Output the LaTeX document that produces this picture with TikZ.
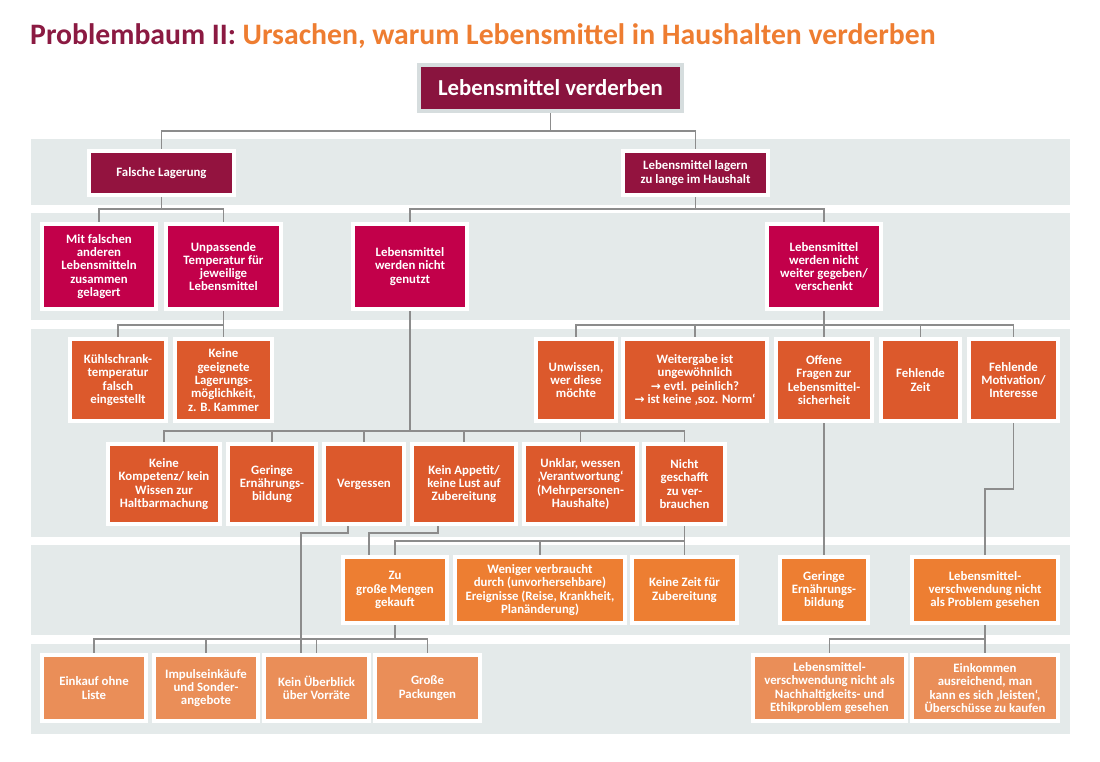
\documentclass[tikz,border=0pt]{standalone}
\usepackage{fontspec}
\setmainfont{Carlito}
\newfontfamily\symf{DejaVu Sans}
\definecolor{tmar}{HTML}{8B1A42}
\definecolor{tora}{HTML}{EE7D31}
\definecolor{crootc}{HTML}{89143E}
\definecolor{crootf}{HTML}{D6DDDE}
\definecolor{cra}{HTML}{93133F}
\definecolor{crb}{HTML}{C2004A}
\definecolor{crc}{HTML}{DC592C}
\definecolor{crd}{HTML}{ED7E32}
\definecolor{cre}{HTML}{EA8E58}
\definecolor{bandc}{HTML}{E4EAEA}
\definecolor{linec}{HTML}{8C8C8C}
\pgfdeclarelayer{bands}
\pgfdeclarelayer{lines}
\pgfsetlayers{bands,lines,main}
\tikzset{
  bx/.style={rectangle, draw=white, line width=4pt, inner sep=0pt, align=center, text=white,
    font=\bfseries\fontsize{12.8}{13.3}\selectfont},
  ra/.style={bx, fill=cra, minimum height=44},
  rb/.style={bx, fill=crb, minimum height=85},
  rc/.style={bx, fill=crc, minimum height=82},
  rd/.style={bx, fill=crc, minimum height=80},
  re/.style={bx, fill=crd, minimum height=66},
  rf/.style={bx, fill=cre, minimum height=66},
  conn/.style={draw=linec, line width=1.3pt},
}
\newcommand{\arr}{{\symf\fontsize{12}{13.3}\selectfont →}}
\begin{document}
\begin{tikzpicture}[x=1pt,y=-1pt]
\useasboundingbox (0,0) rectangle (1100,761);
\begin{pgfonlayer}{bands}
\fill[bandc] (31,139) rectangle (1070,205);
\fill[bandc] (31,213) rectangle (1070,320);
\fill[bandc] (31,329) rectangle (1070,537);
\fill[bandc] (31,545) rectangle (1070,635);
\fill[bandc] (31,644) rectangle (1070,734);
\end{pgfonlayer}

\node[anchor=base west, inner sep=0pt, font=\bfseries\fontsize{29.7}{33}\selectfont] (title) at (30,44)
  {\textcolor{tmar}{Problembaum II:} \textcolor{tora}{Ursachen, warum Lebensmittel in Haushalten verderben}};

\node[rectangle, draw=crootf, line width=4pt, fill=crootc, inner sep=0pt, text=white,
  font=\bfseries\fontsize{22.8}{26}\selectfont, minimum width=263, minimum height=46] (root) at (550.5,88) {Lebensmittel verderben};

% row 1
\node[ra, minimum width=145] (fl) at (161.5,173) {Falsche Lagerung};
\node[ra, minimum width=145] (ll) at (695.5,173) {Lebensmittel lagern\\zu lange im Haushalt};

% row 2
\node[rb, minimum width=114] (mf) at (99,266.5) {Mit falschen\\anderen\\Lebensmitteln\\zusammen\\gelagert};
\node[rb, minimum width=115] (ut) at (223.5,266.5) {Unpassende\\Temperatur für\\jeweilige\\Lebensmittel};
\node[rb, minimum width=114] (lmng) at (410,266.5) {Lebensmittel\\werden nicht\\genutzt};
\node[rb, minimum width=114] (lmwg) at (824,266.5) {Lebensmittel\\werden nicht\\weiter gegeben/\\verschenkt};

% row 3
\node[rc, minimum width=96] (ks) at (118,380) {Kühlschrank-\\temperatur\\falsch\\eingestellt};
\node[rc, minimum width=97] (kg) at (223.5,380) {Keine\\geeignete\\Lagerungs-\\möglichkeit,\\z. B. Kammer};
\node[rc, minimum width=80] (unw) at (576,380) {Unwissen,\\wer diese\\möchte};
\node[rc, minimum width=144] (wg) at (695,380) {Weitergabe ist\\ungewöhnlich\\\arr{} evtl. peinlich?\\\arr{} ist keine ‚soz. Norm‘};
\node[rc, minimum width=96] (off) at (824,380) {Offene\\Fragen zur\\Lebensmittel-\\sicherheit};
\node[rc, minimum width=79] (fz) at (920.5,380) {Fehlende\\Zeit};
\node[rc, minimum width=89] (fm) at (1013.5,380) {Fehlende\\Motivation/\\Interesse};

% row 4
\node[rd, minimum width=112] (kk) at (164,484) {Keine\\Kompetenz/ kein\\Wissen zur\\Haltbarmachung};
\node[rd, minimum width=88] (ge) at (272,484) {Geringe\\Ernährungs-\\bildung};
\node[rd, minimum width=80] (verg) at (364,484) {Vergessen};
\node[rd, minimum width=104] (ka) at (464,484) {Kein Appetit/\\keine Lust auf\\Zubereitung};
\node[rd, minimum width=113] (unk) at (580.5,484) {Unklar, wessen\\‚Verantwortung‘\\(Mehrpersonen-\\Haushalte)};
\node[rd, minimum width=81] (ng) at (684.5,484) {Nicht\\geschafft\\zu ver-\\brauchen};

% row 5
\node[re, minimum width=104] (zgm) at (395,590) {Zu\\große Mengen\\gekauft};
\node[re, minimum width=170] (wv) at (540,590) {Weniger verbraucht\\durch (unvorhersehbare)\\Ereignisse (Reise, Krankheit,\\Planänderung)};
\node[re, minimum width=105] (zks) at (684.5,590) {Keine Zeit für\\Zubereitung};
\node[re, minimum width=88] (ge2) at (824,590) {Geringe\\Ernährungs-\\bildung};
\node[re, minimum width=146] (lmv) at (985,590) {Lebensmittel-\\verschwendung nicht\\als Problem gesehen};

% row 6
\node[rf, minimum width=104] (eol) at (94,688) {Einkauf ohne\\Liste};
\node[rf, minimum width=104] (imp) at (206,688) {Impulseinkäufe\\und Sonder-\\angebote};
\node[rf, minimum width=105] (ku) at (316.5,688) {Kein Überblick\\über Vorräte};
\node[rf, minimum width=105] (gp) at (427.5,688) {Große\\Packungen};
\node[rf, minimum width=153] (lmn) at (829.5,688) {Lebensmittel-\\verschwendung nicht als\\Nachhaltigkeits- und\\Ethikproblem gesehen};
\node[rf, minimum width=146] (ein) at (985,688) {Einkommen\\ausreichend, man\\kann es sich ‚leisten‘,\\Überschüsse zu kaufen};

% level coordinates
\coordinate (h1) at (0,131);
\coordinate (h2) at (0,209);
\coordinate (h3) at (0,325);
\coordinate (h4) at (0,431);
\coordinate (h5) at (0,541);
\coordinate (h6) at (0,489);
\coordinate (h7) at (0,639);
\coordinate (h8) at (0,533);

\begin{pgfonlayer}{lines}
\draw[conn] (root.south) -- (root.south |- h1) -| (fl.north);
\draw[conn] (root.south |- h1) -| (ll.north);

\draw[conn] (fl.south) -- (fl.south |- h2) -| (mf.north);
\draw[conn] (fl.south |- h2) -| (ut.north);
\draw[conn] (ll.south) -- (ll.south |- h2) -| (lmng.north);
\draw[conn] (ll.south |- h2) -| (lmwg.north);

\draw[conn] (ut.south) -- (kg.north);
\draw[conn] (ut.south |- h3) -| (ks.north);
\draw[conn] (lmwg.south) -- (off.north);
\draw[conn] (lmwg.south |- h3) -| (unw.north);
\draw[conn] (lmwg.south |- h3) -| (wg.north);
\draw[conn] (lmwg.south |- h3) -| (fz.north);
\draw[conn] (lmwg.south |- h3) -| (fm.north);

\draw[conn] (lmng.south) -- (lmng.south |- h4) -| (kk.north);
\draw[conn] (lmng.south |- h4) -| (ge.north);
\draw[conn] (lmng.south |- h4) -| (verg.north);
\draw[conn] (lmng.south |- h4) -| (ka.north);
\draw[conn] (lmng.south |- h4) -| (unk.north);
\draw[conn] (lmng.south |- h4) -| (ng.north);

\draw[conn] ([xshift=-16pt]verg.south) -- ([xshift=-16pt]verg.south |- h8) -| ([xshift=-15.5pt]ku.north);
\draw[conn] ([xshift=-26pt]ka.south) -- ([xshift=-26pt]ka.south |- h8) -| ([xshift=-26pt]zgm.north);

\draw[conn] (ng.south) -- (zks.north);
\draw[conn] (ng.south |- h5) -| (zgm.north);
\draw[conn] (ng.south |- h5) -| (wv.north);

\draw[conn] (off.south) -- (ge2.north);
\draw[conn] (fm.south) -- (fm.south |- h6) -| (lmv.north);

\draw[conn] (zgm.south) -- (zgm.south |- h7) -| (eol.north);
\draw[conn] (zgm.south |- h7) -| (imp.north);
\draw[conn] (zgm.south |- h7) -| (ku.north);
\draw[conn] (zgm.south |- h7) -| (gp.north);

\draw[conn] (lmv.south) -- (ein.north);
\draw[conn] (lmv.south |- h7) -| (lmn.north);
\end{pgfonlayer}
\end{tikzpicture}
\end{document}
